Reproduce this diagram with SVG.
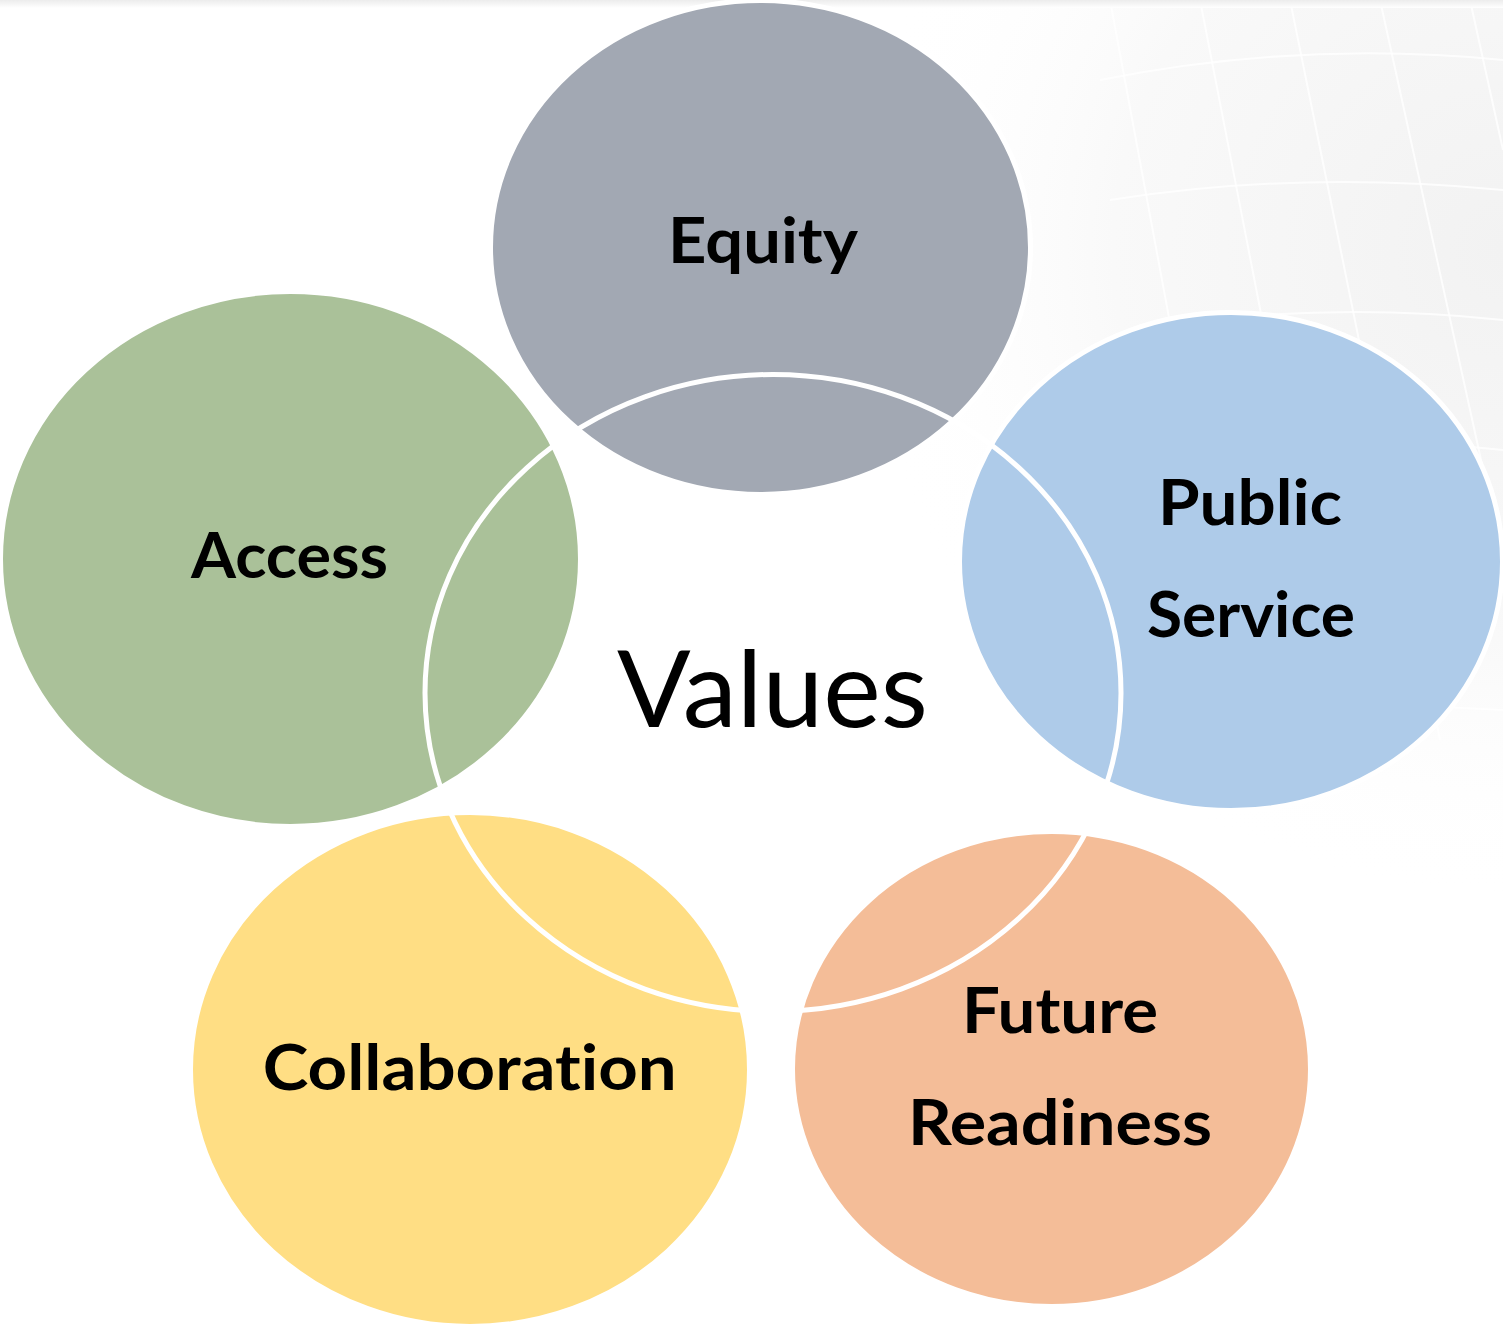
<svg xmlns="http://www.w3.org/2000/svg" width="1503" height="1325" viewBox="0 0 1503 1325">
  <defs>
    <linearGradient id="topband" x1="0" y1="0" x2="0" y2="1">
      <stop offset="0" stop-color="#ececec"/>
      <stop offset="1" stop-color="#ffffff"/>
    </linearGradient>
    <radialGradient id="wm" cx="1503" cy="250" r="650" gradientUnits="userSpaceOnUse">
      <stop offset="0" stop-color="#f2f2f2"/>
      <stop offset="0.6" stop-color="#f9f9f9"/>
      <stop offset="1" stop-color="#ffffff" stop-opacity="0"/>
    </radialGradient>
    <style>
      .node { stroke: #ffffff; stroke-width: 5; }
      .label { font-family: Lato, "Open Sans", "Liberation Sans", sans-serif; font-weight: 700; font-size: 63px; fill: #000000; text-anchor: middle; font-variant-ligatures: none; }
      .center { font-family: Lato, "Open Sans", "Liberation Sans", sans-serif; font-weight: 400; font-size: 107px; fill: #000000; text-anchor: middle; font-variant-ligatures: none; }
      .grid { stroke: #ffffff; stroke-width: 2; fill: none; opacity: 0.8; }
    </style>
  </defs>
  <rect width="1503" height="1325" fill="#ffffff"/>
  <rect width="1503" height="1000" fill="url(#wm)"/>
  <g id="watermark">
    <path class="grid" d="M1110 0 L1240 700 M1200 0 L1340 720 M1290 0 L1440 740 M1380 0 L1503 560 M1470 0 L1503 150"/>
    <path class="grid" d="M1100 80 Q1300 40 1503 60 M1110 200 Q1300 170 1503 190 M1130 330 Q1320 300 1503 320 M1150 460 Q1330 430 1503 450 M1170 590 Q1340 570 1503 580 M1190 720 Q1350 700 1503 710"/>
  </g>
  <rect width="1503" height="8" fill="url(#topband)"/>

  <g id="node-equity">
    <ellipse class="node" cx="760.5" cy="247.5" rx="270" ry="247" fill="#A2A8B3"/>
    <text class="label" x="763" y="263" textLength="190" lengthAdjust="spacingAndGlyphs">Equity</text>
  </g>
  <g id="node-access">
    <ellipse class="node" cx="290.5" cy="559" rx="290" ry="267.5" fill="#AAC199"/>
    <text class="label" x="289.5" y="578" textLength="197" lengthAdjust="spacingAndGlyphs">Access</text>
  </g>
  <g id="node-public-service">
    <ellipse class="node" cx="1231" cy="561.5" rx="271.5" ry="249" fill="#AECBE9"/>
    <text class="label" x="1250" y="525" textLength="184" lengthAdjust="spacingAndGlyphs">Public</text>
    <text class="label" x="1251" y="637" textLength="208" lengthAdjust="spacingAndGlyphs">Service</text>
  </g>
  <g id="node-collaboration">
    <ellipse class="node" cx="470" cy="1069.5" rx="279.5" ry="257" fill="#FFDE84"/>
    <text class="label" x="469.7" y="1090" textLength="414" lengthAdjust="spacingAndGlyphs">Collaboration</text>
  </g>
  <g id="node-future-readiness">
    <ellipse class="node" cx="1051.5" cy="1069" rx="259" ry="237.5" fill="#F4BD98"/>
    <text class="label" x="1060" y="1033" textLength="196" lengthAdjust="spacingAndGlyphs">Future</text>
    <text class="label" x="1060" y="1145" textLength="304" lengthAdjust="spacingAndGlyphs">Readiness</text>
  </g>

  <g id="connectors">
    <ellipse cx="773" cy="693" rx="348" ry="318.5" fill="none" stroke="#ffffff" stroke-width="5"/>
  </g>

  <g id="node-values">
    <text class="center" x="772.5" y="727" textLength="311" lengthAdjust="spacingAndGlyphs">Values</text>
  </g>
</svg>
